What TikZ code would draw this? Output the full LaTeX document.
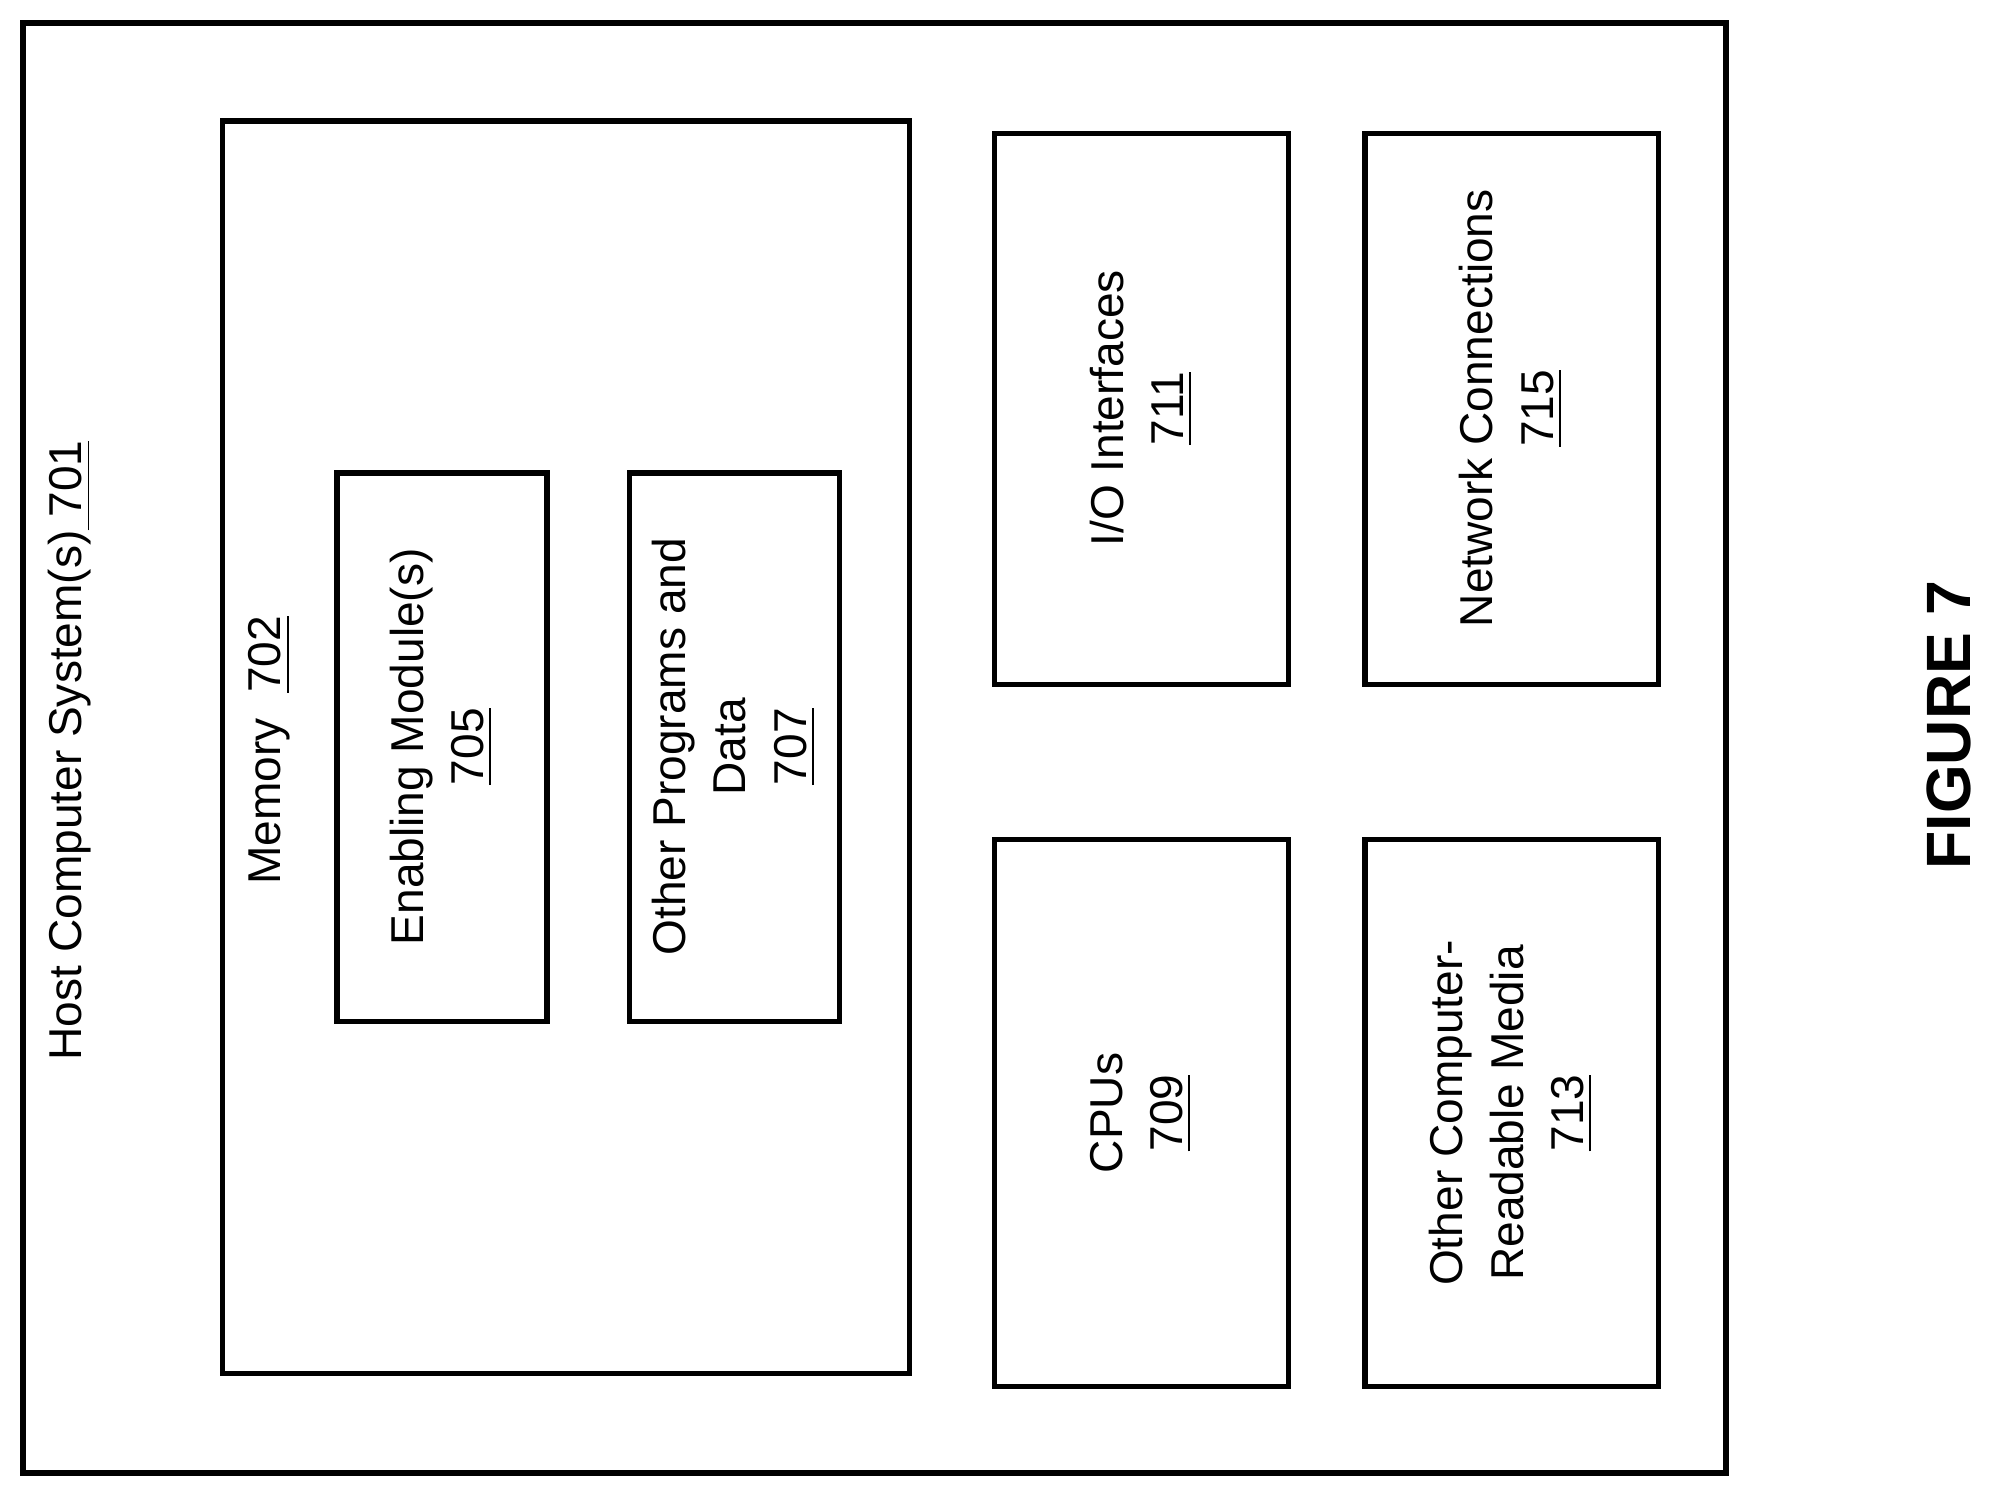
\documentclass[tikz,border=0pt]{standalone}
\usepackage{fontspec}
\setmainfont{Liberation Sans}
\begin{document}
\begin{tikzpicture}[x=0.01cm, y=-0.01cm,
  box/.style={draw, line width=1.2pt},
  lbl/.style={rotate=90, align=center, font=\fontsize{10.3}{13.5}\selectfont}]
\useasboundingbox (0,0) rectangle (1566,1174);
%\draw[step=100, black!20] (0,0) grid (1566,1174);
\draw[box] (18,18) rectangle (1357,1158);
\draw[box] (175,95) rectangle (715,1080);
\draw[box] (265,372) rectangle (430,803);
\draw[box] (495,372) rectangle (660,803);
\draw[box] (782,105) rectangle (1013,538);
\draw[box] (1073,105) rectangle (1304,538);
\draw[box] (782,660) rectangle (1013,1090);
\draw[box] (1073,660) rectangle (1304,1090);
\node[lbl] (host) at (55,590) {Host Computer System(s)\underline{ 701}};
\node[lbl] (mem) at (212,590) {Memory \ \underline{702}};
\node[lbl] (enab) at (347,587) {Enabling Module(s)\\\underline{705}};
\node[lbl] (other) at (577,587) {Other Programs and\\Data\\\underline{707}};
\node[lbl] (io) at (897,321) {I/O Interfaces\\\underline{711}};
\node[lbl] (net) at (1188,321) {Network Connections\\\underline{715}};
\node[lbl] (cpu) at (897,875) {CPUs\\\underline{709}};
\node[lbl] (crm) at (1188,875) {Other Computer-\\Readable Media\\\underline{713}};
\node[rotate=90, font=\fontsize{14}{17}\selectfont\bfseries] (fig) at (1532,570) {FIGURE 7};
\end{tikzpicture}
\end{document}
